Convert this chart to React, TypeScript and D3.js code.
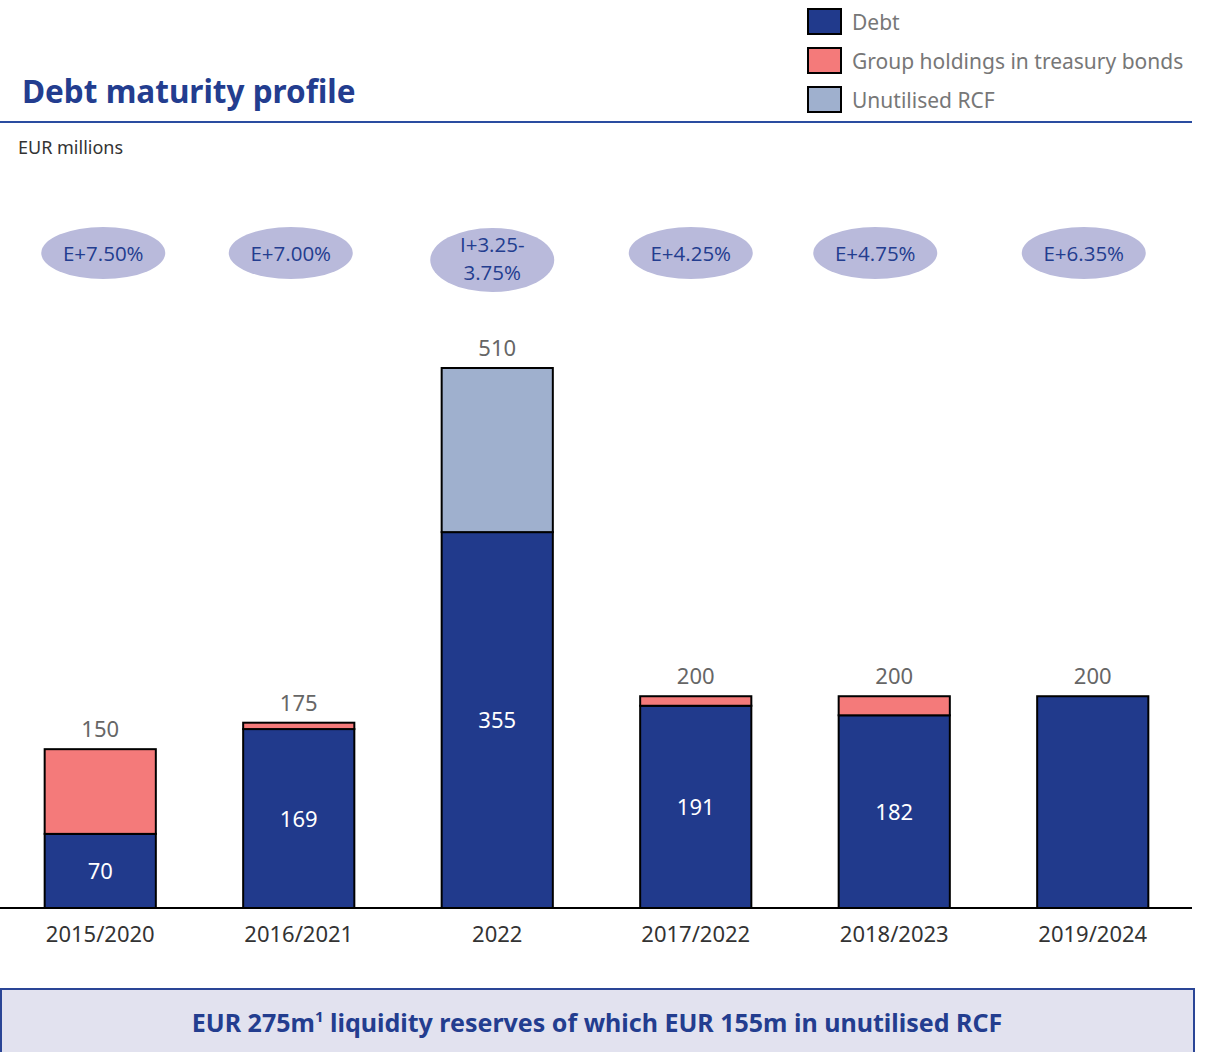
import React from "react";
import * as d3 from "d3";

const categories = ["2015/2020", "2016/2021", "2022", "2017/2022", "2018/2023", "2019/2024"];
const debt = [70, 169, 355, 191, 182, 200];
const treasury = [80, 6, 0, 9, 18, 0];
const rcf = [0, 0, 155, 0, 0, 0];
const totals = [150, 175, 510, 200, 200, 200];
const debtLabels = ["70", "169", "355", "191", "182", ""];
const rates = [["E+7.50%"], ["E+7.00%"], ["I+3.25-", "3.75%"], ["E+4.25%"], ["E+4.75%"], ["E+6.35%"]];
const legendItems = ["Debt", "Group holdings in treasury bonds", "Unutilised RCF"];

const W = 1206;
const H = 1052;
const FONT = "'Noto Sans', 'Open Sans', sans-serif";
const COLORS = ["#213a8c", "#f47a7a", "#9fb0ce"];
const ellipseDx = [3, -8, -5, -5, -19, -9];

export default function App() {
  const x = d3.scaleBand<string>().domain(categories).range([1, 1192]).paddingInner(0.44).paddingOuter(0.22);
  const y = d3.scaleLinear().domain([0, 510]).range([908, 368]);
  const series = categories.map((c, i) => ({ c, vals: [debt[i], treasury[i], rcf[i]] }));
  const stack = d3.stack<any>().keys(["0", "1", "2"]).value((d: any, k: string) => d.vals[+k]);
  const stacked = stack(series as any);

  return (
    <div style={{ position: "absolute", left: 0, top: 0 }}>
      <svg width={W} height={H} style={{ display: "block", fontFamily: FONT }}>
        <rect width={W} height={H} fill="#fff" />
        <text x={22} y={103} fontSize={31.5} fontWeight="bold" fill="#233d8f">Debt maturity profile</text>
        <line x1={0} x2={1192} y1={122} y2={122} stroke="#2a4ca0" strokeWidth={2} />
        <text x={18} y={154} fontSize={18} fill="#333">EUR millions</text>

        {legendItems.map((l, i) => (
          <g key={l} transform={`translate(0,${i * 39})`}>
            <rect x={808} y={9} width={33} height={25} fill={COLORS[i]} stroke="#000" strokeWidth={2} />
            <text x={852} y={30} fontSize={21} fill="#777">{l}</text>
          </g>
        ))}

        {categories.map((c, i) => {
          const cx = (x(c) as number) + x.bandwidth() / 2 + ellipseDx[i];
          const two = rates[i].length > 1;
          return (
            <g key={"e" + c}>
              <ellipse cx={cx} cy={two ? 260 : 253} rx={62} ry={two ? 32 : 26} fill="#b9badb" />
              {rates[i].map((t, j) => (
                <text key={j} x={cx} y={(two ? 252 : 261) + j * 28} textAnchor="middle" fontSize={20.5}
                  fontFamily="'Open Sans', sans-serif" fill="#233d8f">{t}</text>
              ))}
            </g>
          );
        })}

        {stacked.map((layer, k) => (
          <g key={"l" + k}>
            {layer.map((d, i) => {
              const v = d[1] - d[0];
              if (v <= 0) return null;
              return (
                <rect key={i} x={x(categories[i])} y={y(d[1])} width={x.bandwidth()} height={y(d[0]) - y(d[1])}
                  fill={COLORS[k]} stroke="#000" strokeWidth={2} />
              );
            })}
          </g>
        ))}

        {categories.map((c, i) => {
          const cx = (x(c) as number) + x.bandwidth() / 2;
          return (
            <g key={"t" + c}>
              <text x={cx} y={y(totals[i]) - 12} textAnchor="middle" fontSize={22} fill="#666">{totals[i]}</text>
              {debtLabels[i] && (
                <text x={cx} y={(y(0) + y(debt[i])) / 2 + 8} textAnchor="middle" fontSize={22} fill="#fff">{debtLabels[i]}</text>
              )}
              <text x={cx} y={942} textAnchor="middle" fontSize={22} fill="#333">{c}</text>
            </g>
          );
        })}
        <line x1={0} x2={1192} y1={908} y2={908} stroke="#000" strokeWidth={2} />

        <rect x={1} y={989} width={1193} height={70} fill="#e2e2ef" stroke="#2a4596" strokeWidth={2} />
        <text x={597} y={1032} textAnchor="middle" fontSize={25} fontWeight="bold" fill="#233d8f">
          EUR 275m<tspan fontSize={15} dy={-10}>1</tspan><tspan dy={10}> liquidity reserves of which EUR 155m in unutilised RCF</tspan>
        </text>
      </svg>
    </div>
  );
}
